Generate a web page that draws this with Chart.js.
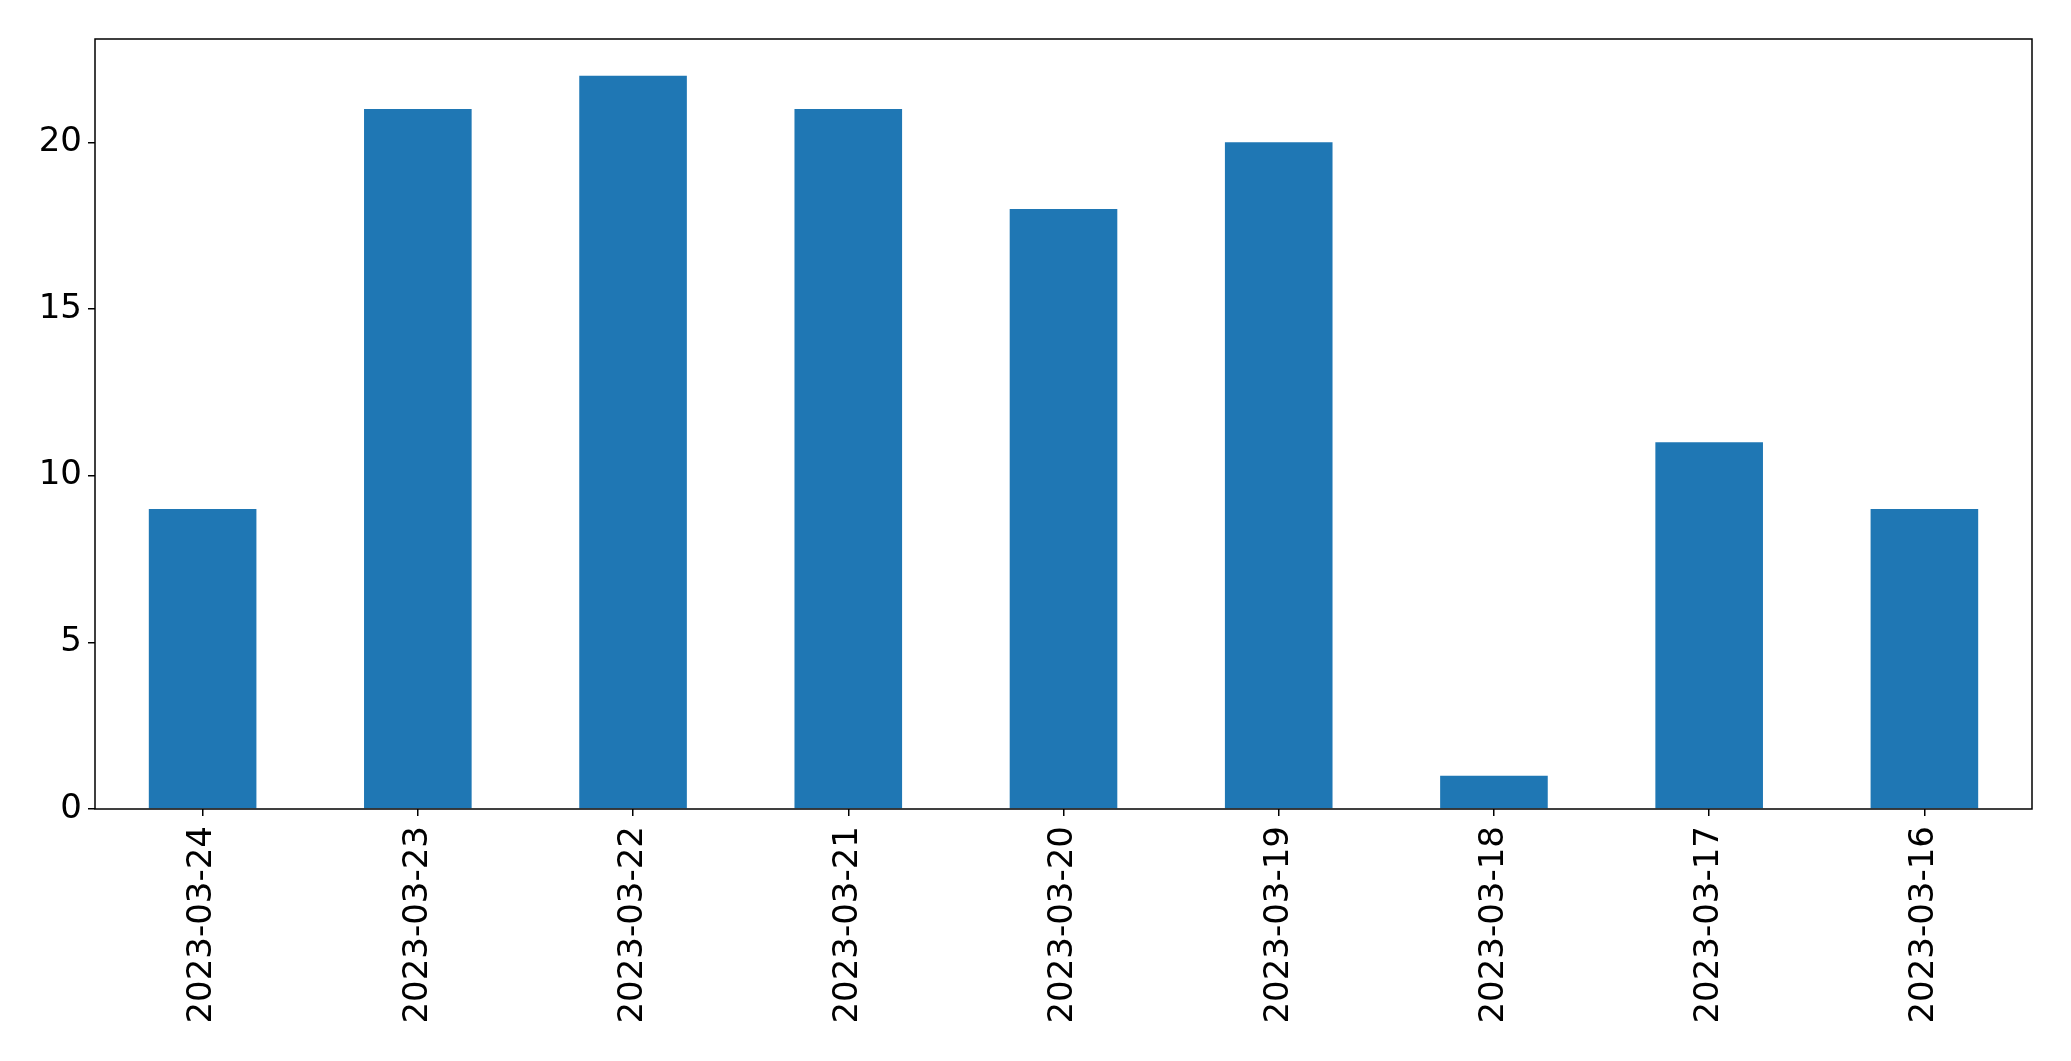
<!DOCTYPE html>
<html>
<head>
<meta charset="utf-8">
<script src="https://cdn.jsdelivr.net/npm/chart.js@4"></script>
<style>
  html, body { margin: 0; padding: 0; background: #fff; }
  canvas { display: block; }
</style>
</head>
<body>
<canvas id="chart" width="2071" height="1061"></canvas>
<script>
// data
const dates = ["2023-03-24", "2023-03-23", "2023-03-22", "2023-03-21", "2023-03-20",
               "2023-03-19", "2023-03-18", "2023-03-17", "2023-03-16"];
const counts = [9, 21, 22, 21, 18, 20, 1, 11, 9];
const yTicks = [0, 5, 10, 15, 20];

const tickFont = { family: "DejaVu Sans", size: 34 };

// box around the plot area, like matplotlib's spines
const frame = {
    id: "frame",
    afterDraw(chart) {
        const a = chart.chartArea;
        const ctx = chart.ctx;
        ctx.save();
        ctx.strokeStyle = "#000";
        ctx.lineWidth = 1.5;
        ctx.strokeRect(a.left, a.top, a.right - a.left, a.bottom - a.top);
        ctx.restore();
    }
};

new Chart(document.getElementById("chart").getContext("2d"), {
    type: "bar",
    data: {
        labels: dates,
        datasets: [{
            data: counts,
            backgroundColor: "#1f77b4",
            categoryPercentage: 1.0,
            barPercentage: 0.5
        }]
    },
    options: {
        responsive: false,
        devicePixelRatio: 1,
        animation: false,
        layout: { padding: { top: 39, right: 39, left: 0, bottom: 0 } },
        plugins: { legend: { display: false }, tooltip: { enabled: false } },
        scales: {
            x: {
                grid: { display: true, drawOnChartArea: false, drawTicks: true, tickLength: 7,
                        color: "#000", lineWidth: 1.5, offset: false },
                border: { display: false },
                ticks: { font: tickFont, color: "#000", maxRotation: 90, minRotation: 90,
                          padding: 10, autoSkip: false },
                afterFit(scale) { scale.height = 252; }
            },
            y: {
                min: 0,
                max: 23.1,
                grid: { display: true, drawOnChartArea: false, drawTicks: true, tickLength: 7,
                        color: "#000", lineWidth: 1.5 },
                border: { display: false },
                ticks: { font: tickFont, color: "#000", stepSize: 5, padding: 6 },
                afterBuildTicks(scale) {
                    scale.ticks = yTicks.map(v => ({ value: v }));
                },
                afterFit(scale) { scale.width = 95; }
            }
        }
    },
    plugins: [frame]
});
</script>
</body>
</html>
